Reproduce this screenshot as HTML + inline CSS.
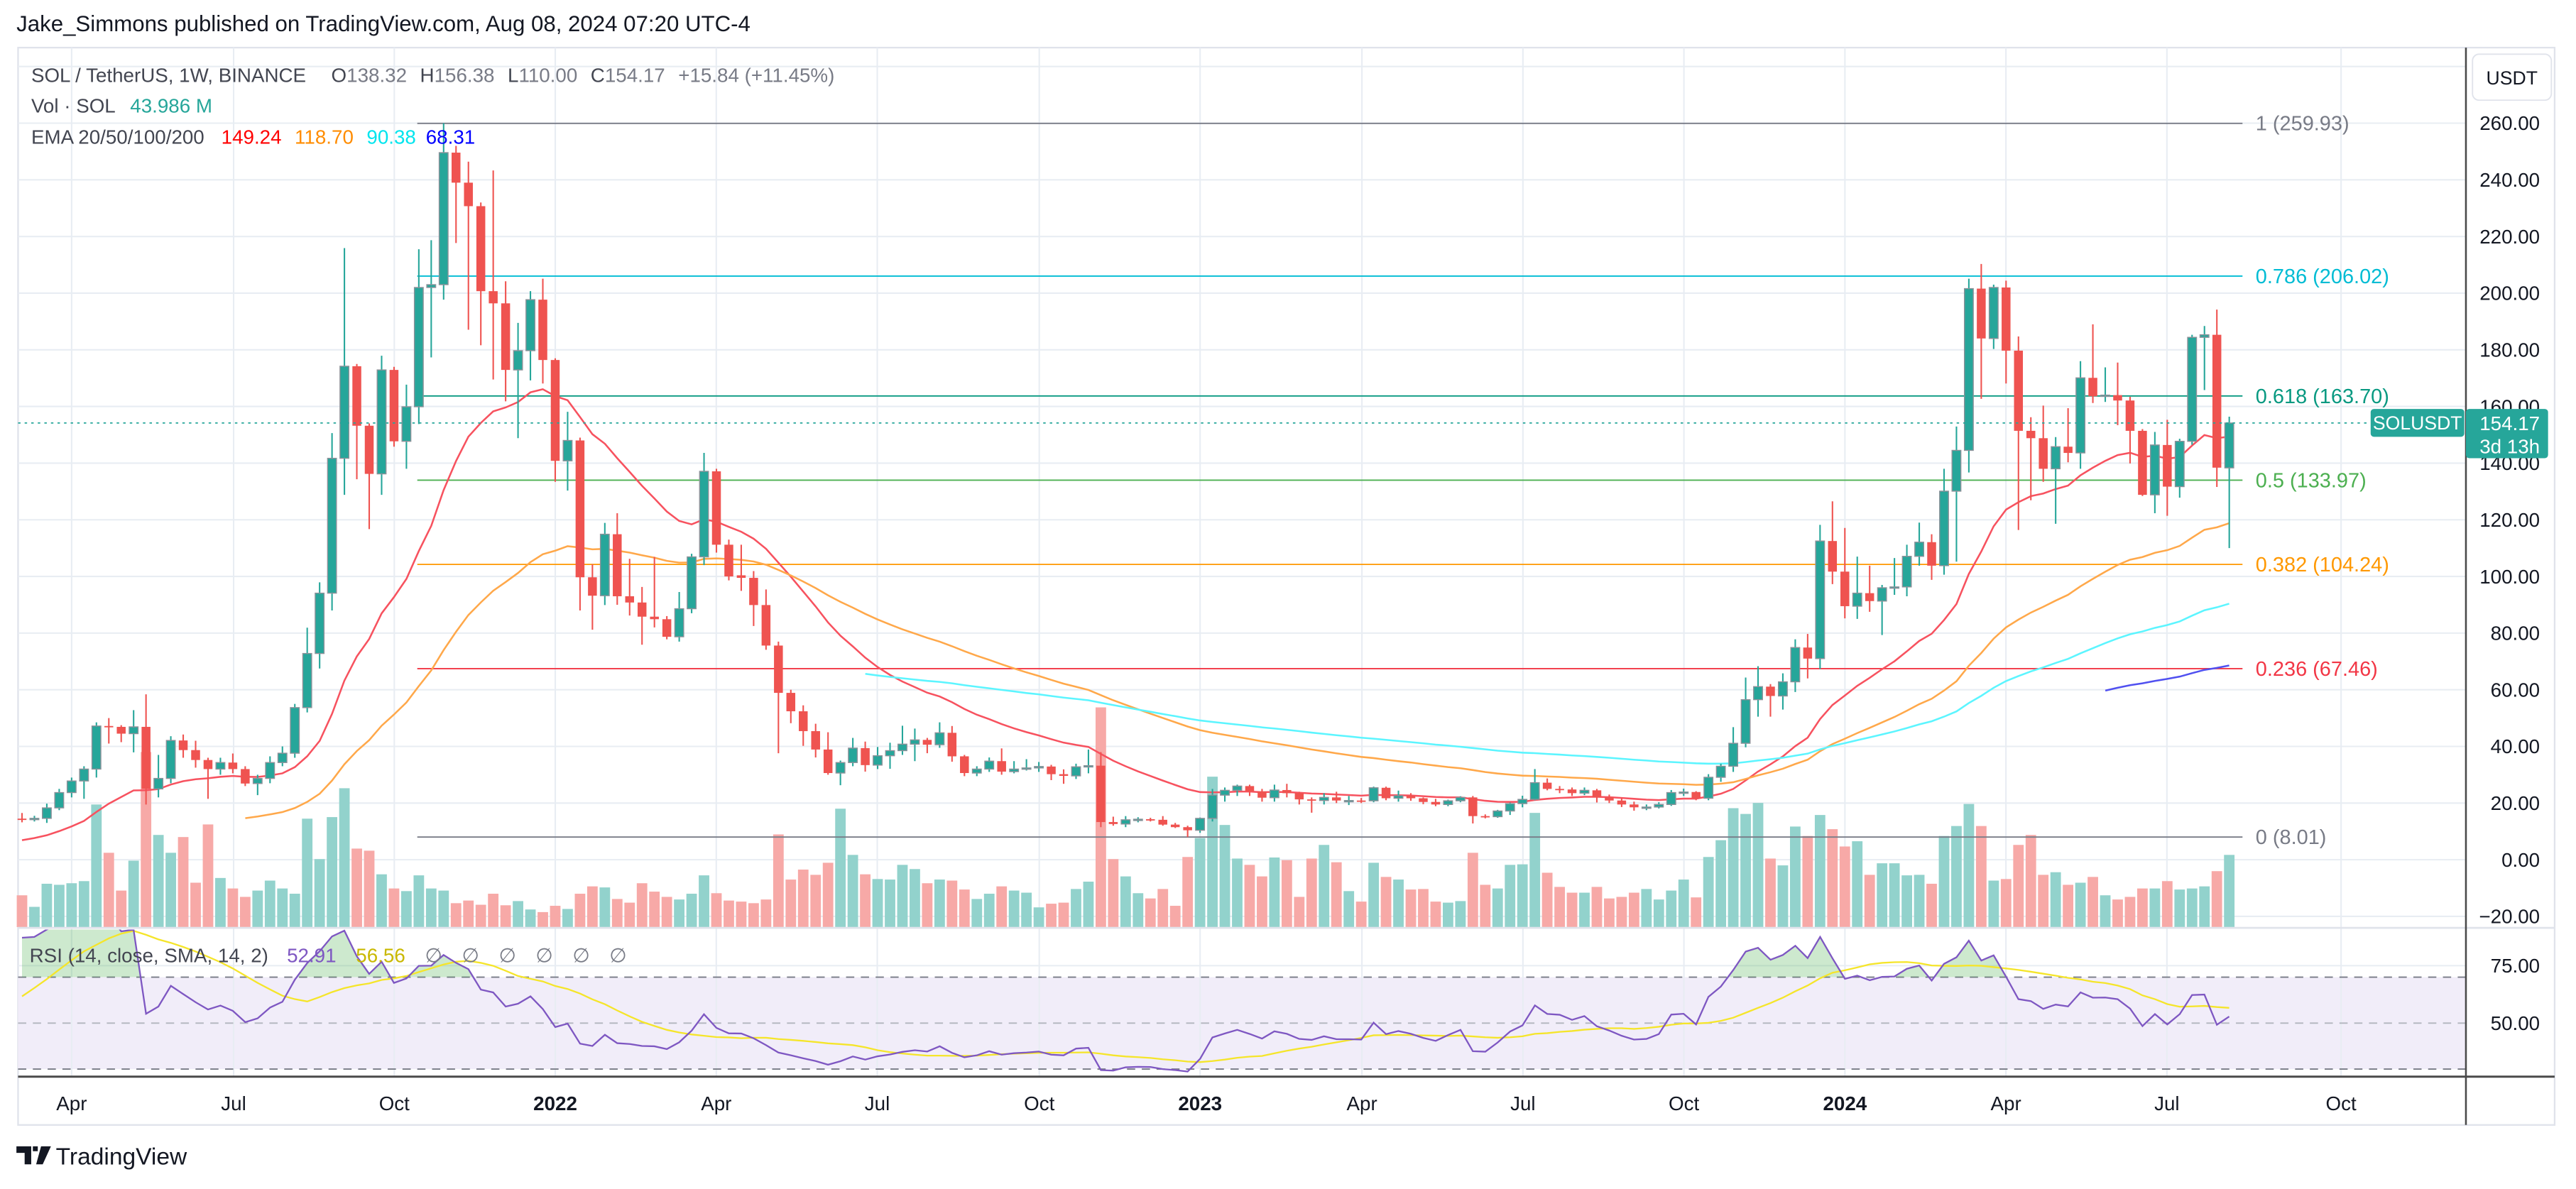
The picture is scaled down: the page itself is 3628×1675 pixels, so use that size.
<!DOCTYPE html>
<html><head><meta charset="utf-8"><style>
html,body{margin:0;padding:0;background:#fff;width:3628px;height:1675px;overflow:hidden}
svg{display:block}
text{font-family:"Liberation Sans",sans-serif}
</style></head><body>
<svg id="s" width="3628" height="1675" viewBox="0 0 1568 724" preserveAspectRatio="none" xmlns="http://www.w3.org/2000/svg"></svg>
<script>
const D=[[14.5,16.5,13.2,14.3],[14.3,15.5,13.5,14.6],[14.6,19.8,13,18.3],[18.3,25,17.5,23.7],[23.7,29,22,27.8],[27.8,33,21.5,32],[32,48.5,29,47.2],[47.2,50,41,47],[46.9,47.5,41.5,44.5],[44.5,52.8,37.9,46.9],[46.9,58.4,19.5,25],[25,37,22,28.7],[28.7,43.6,27,42.1],[42.1,44.2,36,38.7],[38.7,42,32.5,35.2],[35.2,36,21.5,32],[32,36,30,34.3],[34.3,37.5,30.5,32],[32,33,26,26.9],[26.9,30,22.8,28.7],[28.7,36.5,27,34.3],[34.3,40,33,37.6],[37.6,55,36,53.7],[53.7,81.9,52,72.8],[72.8,97.9,67.5,94.1],[94.1,150.6,88,141.7],[141.7,215.9,128.8,174.2],[174.2,175,134.3,153.2],[153.2,154,116.7,136.2],[136.2,177.9,128.8,172.9],[172.9,174,145.8,147.7],[147.7,167.7,138,159.9],[159.9,215.5,153.8,202],[202,218.7,177.3,203],[203,260,197.7,249.6],[249.6,252,217.7,239],[239,246.4,187.1,230.7],[230.7,232,181.6,200.7],[200.7,243.3,169.5,196.4],[196.4,204.2,161.8,172.9],[172.9,189.5,148.8,179.7],[179.7,200.7,169.2,197.7],[197.7,205.1,168.1,176.4],[176.4,177,133.4,140.8],[140.8,158.1,130.3,148],[148,149,88,99.7],[99.7,104.3,81.2,93.2],[93.2,118.9,89.9,114.9],[114.9,122.3,90,93],[93,106.2,86.2,90.8],[90.8,96.3,75.9,85.8],[85.8,106.9,82,84.9],[84.9,86,77.8,78.7],[78.7,94.5,77,88.6],[88.6,108,87,106.9],[106.9,143.6,104,137.1],[137.1,138,108.4,111.2],[111.2,113,98.6,100],[100.4,111.2,94.9,99.5],[99.5,101.9,82.5,89.9],[89.9,95.4,74.1,75.6],[75.6,77,37.6,58.9],[58.9,60,48.2,52.4],[52.4,54.5,40.2,45.4],[45.4,48,36.1,38.9],[38.9,45,30,30.6],[30.6,35,26.3,34.3],[34.3,43,33,39.4],[39.4,41.7,31.1,33.4],[33.4,39.8,32,36.7],[36.7,41.3,32.1,38.5],[38.5,47.3,37,40.8],[40.8,46.3,34.8,42.3],[42.3,43,37.6,40.6],[40.6,48.5,39.5,44.8],[44.8,47.2,34.6,36.5],[36.5,37,29.5,30.6],[30.6,33,29.5,32],[32,36.1,31,34.8],[34.8,39.3,30,31.1],[31.1,34.8,30.5,32],[32,35.5,31.5,32.4],[32.4,34.5,31,32.9],[32.9,33.5,28.1,30.2],[30.2,31.9,26.8,29.6],[29.6,33.9,28.5,32.8],[32.8,38.9,30.5,33.2],[33.2,38,11.5,13.3],[13.3,15.2,12,12.6],[12.6,15.4,11.5,14.1],[14.1,15,13.2,14.3],[14.3,14.8,13.5,14.1],[14.1,15.4,12,12.4],[12.4,13,11.2,11.5],[11.5,12,8,10.4],[10.4,14.9,9.5,14.6],[14.6,25,13.5,22.8],[22.8,25.5,20.5,24.5],[24.5,26.5,22.5,26],[26,26.5,22.5,24.1],[24.1,25,20.5,21.9],[21.9,26.5,20.5,24.6],[24.6,26.8,22,23.5],[23.5,24,19.5,21.3],[21.3,22,16.6,20.9],[20.9,23.5,19.5,22],[22,24,20,20.9],[20.9,22.5,19.3,20.9],[20.9,21.8,20,20.8],[20.8,25.8,20.3,25.4],[25.4,25.8,21,21.7],[21.7,24.4,20.5,22.6],[22.6,23.5,20.8,21.7],[21.7,22,19.6,20.4],[20.4,21.5,18.9,19.5],[19.5,21.2,18.9,20.8],[20.8,22.4,20.3,22],[22,22.5,12.8,15.4],[15.4,16,14.6,15.2],[15.2,17.6,14.8,17.2],[17.2,20.2,15.8,19.8],[19.8,22.6,18.5,21.3],[21.3,32,21,27.2],[27.2,28.7,24.5,25],[25,26,23.5,24.8],[24.8,25.5,22.5,23.5],[23.5,25.5,22.8,24.5],[24.5,25,20.2,22],[22,23,20,20.9],[20.9,21.8,18.6,19.5],[19.5,20.5,17.3,18.5],[18.5,19.5,17.5,18.6],[18.6,20.3,18.1,19.5],[19.5,24.6,19,23.7],[23.7,25.1,22.5,23.9],[23.9,24.2,21,21.7],[21.7,30.2,21,29.1],[29.1,33.9,27.5,33],[33,46.8,31,41.1],[41.1,64.3,39.7,56.5],[56.5,68.3,50.5,61.1],[61.1,62,50.5,57.8],[57.8,65.8,53,62.8],[62.8,77.8,59.2,74.9],[74.9,79.7,64,71],[71,118.2,67.3,112.5],[112.5,126.5,97.3,101.7],[101.7,117.1,85.2,89.5],[89.5,107,85,94.1],[94.1,103.8,87.5,91.3],[91.3,97,79.3,96],[96,106.5,93.5,96.3],[96.3,111.2,93,107.1],[107.1,119,103.8,112.1],[112.1,114.9,98.8,103.8],[103.8,138,100.6,130.1],[130.1,152.9,105.2,144.5],[144.5,205.1,136.7,201.6],[201.6,210.3,162.7,184],[184,203,180.3,202],[202,204.4,168.1,179.7],[179.7,184.7,116.4,151.4],[151.4,156.2,126.9,148.8],[148.8,160.3,133.4,138],[138,149.2,118.6,145.8],[145.8,159.4,140.3,143.6],[143.6,176,138,170.1],[170.1,189,161.2,163.6],[163.6,173.8,161.6,164],[164,175.5,153.4,162.1],[162.1,163.4,139.9,151.4],[151.4,152,128.4,128.8],[128.8,151,122.3,146.4],[146.4,155.3,121.4,131.7],[131.7,148.6,127.8,147.7],[147.7,185.3,146.5,184.4],[184.4,188.4,165.8,185.3],[185.3,194.2,131.6,138.4],[138.32,156.38,110,154.17]];
const VZ=[1503,1525,1481,1483,1480,1476,1330,1422,1494,1437,1230,1388,1422,1392,1479,1368,1470,1490,1506,1494,1475,1490,1500,1357,1434,1354,1299,1414,1418,1463,1490,1495,1465,1490,1494,1518,1513,1521,1500,1522,1514,1530,1535,1523,1529,1500,1486,1488,1510,1517,1480,
1496,1506,1511,1500,1465,1499,1513,1515,1518,1511,1387,1473,1454,1464,1441,1338,1426,1463,1472,1473,1445,1453,1480,1473,1475,1492,1510,1500,1486,1494,1498,1526,1519,1517,1491,1477,1145,1434,1467,1499,1509,1491,1523,1430,1394,1277,1369,1433,1445,1467,1431,
1436,1506,1433,1407,1440,1495,1515,1441,1468,1473,1492,1491,1515,1517,1514,1422,1483,1490,1445,1444,1346,1460,1487,1498,1498,1487,1509,1506,1498,1491,1511,1494,1473,1507,1430,1398,1337,1348,1327,1433,1446,1372,1390,1350,1377,1410,1400,1464,1442,1442,
1465,1464,1481,1390,1371,1329,1371,1475,1472,1407,1388,1464,1459,1483,1479,1468,1503,1511,1506,1490,1490,1476,1492,1490,1486,1457,1426];
const PRE=[3.5,4.5,4.0,4.5,3.0,3.2,3.0,2.8,2.6,2.3,2.0,1.6,1.5,1.6,1.9,1.8,2.2,2.4,1.6,1.5,1.5,1.6,2.0,3.5,3.7,4.0,6.5,8.0,12,14,14.4];
const X=i=>13.4+i*7.548, Y=p=>75+(260-p)*1.725, R=r=>623-(r-50)*1.4;
let s='';
const L=(x1,y1,x2,y2,c,w,extra)=>s+=`<line x1="${x1}" y1="${y1}" x2="${x2}" y2="${y2}" stroke="${c}" stroke-width="${w}" ${extra||''}/>`;
const T=(x,y,t,c,sz,anc,extra)=>s+=`<text x="${x}" y="${y}" fill="${c}" font-size="${sz}" text-anchor="${anc||'start'}" ${extra||''}>${t}</text>`;
s+=`<rect x="11" y="29" width="1544" height="656" fill="#fff" stroke="#e0e3eb" stroke-width="1"/>`;
s+=`<rect x="11" y="${R(70)}" width="1490" height="${R(30)-R(70)}" fill="#f1edf9"/>`;
for(let p=280;p>=-20;p-=20){const y=Y(p); if(y>29&&y<565) L(11,y,1501,y,'#e8edf3',0.9);}
L(11,R(75),1501,R(75),'#e8edf3',0.9);
const TX=[[43.6,'Apr'],[142.2,'Jul'],[240,'Oct'],[338,'2022',1],[436,'Apr'],[534,'Jul'],[632.6,'Oct'],[730.5,'2023',1],[829,'Apr'],[927,'Jul'],[1025,'Oct'],[1123,'2024',1],[1221,'Apr'],[1319,'Jul'],[1425,'Oct']];
TX.forEach(t=>L(t[0],29,t[0],655,'#e8edf3',0.9));
L(11,R(70),1501,R(70),'#787b86',0.8,'stroke-dasharray="5 4"');
L(11,R(50),1501,R(50),'#b2b5be',0.8,'stroke-dasharray="5 4"');
L(11,R(30),1501,R(30),'#787b86',0.8,'stroke-dasharray="5 4"');
D.forEach((d,i)=>{const up=d[3]>=d[0];const top=64.8+VZ[i]*0.3196;s+=`<rect x="${X(i)-3.2}" y="${top}" width="6.4" height="${564.5-top}" fill="${up?'#92d2cc':'#f7a9a7'}"/>`;});
const FIB=[[259.93,'1 (259.93)','#787b86'],[206.02,'0.786 (206.02)','#00bcd4'],[163.70,'0.618 (163.70)','#089981'],[133.97,'0.5 (133.97)','#4caf50'],[104.24,'0.382 (104.24)','#ff9800'],[67.46,'0.236 (67.46)','#f23645'],[8.01,'0 (8.01)','#787b86']];
FIB.forEach(f=>{const y=Y(f[0]);L(254,y,1365,y,f[2],0.8);T(1373,y+4.3,f[1],f[2],12.5);});
const all=PRE.concat(D.map(d=>d[3]));const off=PRE.length;
function ema(n){const out=new Array(all.length).fill(null);if(all.length<n)return out;let sm=0;for(let i=0;i<n;i++)sm+=all[i];let e=sm/n;out[n-1]=e;const k=2/(n+1);for(let i=n;i<all.length;i++){e=all[i]*k+e*(1-k);out[i]=e;}return out;}
[[20,'#f7525f'],[50,'#ffa84a'],[100,'#5cf5ff'],[200,'#5050f0']].forEach(([n,c])=>{const e=ema(n);let pts=[];for(let i=0;i<D.length;i++){const v=e[i+off];if(v!=null)pts.push(X(i).toFixed(1)+','+Y(v).toFixed(1));}s+=`<polyline points="${pts.join(' ')}" fill="none" stroke="${c}" stroke-width="1.1"/>`;});
D.forEach((d,i)=>{const [o,h,l,c]=d;const up=c>=o;const x=X(i);const col=up?'#26a69a':'#ef5350';L(x,Y(h),x,Y(l),col,0.9);const t=Y(Math.max(o,c)),b=Y(Math.min(o,c));const hh=Math.max(b-t,0.8);s+=`<rect x="${x-2.7}" y="${t}" width="5.4" height="${hh}" fill="${col}" ${up?'stroke="#8d9199" stroke-width="0.6"':''}/>`;});
L(11,Y(154.17),1441,Y(154.17),'#26a69a',0.8,'stroke-dasharray="1.5 2.5"');
function rsi(){const ch=[];for(let i=1;i<all.length;i++)ch.push(all[i]-all[i-1]);const out=new Array(all.length).fill(null);let g=0,l=0;for(let i=0;i<14;i++){g+=Math.max(ch[i],0);l+=Math.max(-ch[i],0);}g/=14;l/=14;out[14]=100-100/(1+g/(l||1e-9));for(let i=14;i<ch.length;i++){g=(g*13+Math.max(ch[i],0))/14;l=(l*13+Math.max(-ch[i],0))/14;out[i+1]=100-100/(1+g/(l||1e-9));}return out;}
const rs=rsi();const rv=[],sv=[];for(let i=0;i<D.length;i++){rv.push(rs[i+off]);let sm=0;for(let k=0;k<14;k++)sm+=rs[i+off-k];sv.push(sm/14);}
s+=`<clipPath id="rc"><rect x="11" y="566" width="1490" height="89"/></clipPath><clipPath id="ob"><rect x="11" y="566" width="1490" height="${R(70)-566}"/></clipPath>`;
let rp=rv.map((v,i)=>X(i).toFixed(1)+','+R(v).toFixed(1));
s+=`<g clip-path="url(#ob)"><polygon points="${X(0)},${R(70)} ${rp.join(' ')} ${X(D.length-1)},${R(70)}" fill="rgba(76,175,80,0.28)"/></g>`;
s+=`<g clip-path="url(#rc)"><polyline points="${sv.map((v,i)=>X(i).toFixed(1)+','+R(v).toFixed(1)).join(' ')}" fill="none" stroke="#f5e52a" stroke-width="1"/><polyline points="${rp.join(' ')}" fill="none" stroke="#7e57c2" stroke-width="1"/></g>`;
L(11,565,1555,565,'#e0e3eb',1.2);
L(11,655.6,1555,655.6,'#4a4a4a',1.3);
L(1501,29,1501,685,'#4a4a4a',1.1);
for(let p=260;p>=-20;p-=20){T(1546,Y(p)+4.2,p.toFixed(2).replace('-','−'),'#131722',12,'end');}
T(1546,R(75)+4.2,'75.00','#131722',12,'end');T(1546,R(50)+4.2,'50.00','#131722',12,'end');
s+=`<rect x="1505" y="33" width="48" height="28" rx="4" fill="#fff" stroke="#e0e3eb" stroke-width="0.8"/>`;T(1529,51.5,'USDT','#131722',11.5,'middle');
s+=`<rect x="1443" y="249" width="57" height="17" rx="2" fill="#26a69a"/>`;T(1471.5,261.5,'SOLUSDT','#fff',11.5,'middle');
s+=`<rect x="1501" y="249" width="50" height="30" rx="2" fill="#26a69a"/>`;T(1546,262,'154.17','#fff',12,'end');T(1546,276,'3d 13h','#fff',12,'end');
TX.forEach(t=>T(t[0],676,t[1],'#131722',12,'middle',t[2]?'font-weight="bold"':''));
T(10,19,'Jake_Simmons published on TradingView.com, Aug 08, 2024 07:20 UTC-4','#131722',13.5);
s+=`<text x="19" y="50" font-size="12" fill="#434651">SOL / TetherUS, 1W, BINANCE <tspan dx="12">O</tspan><tspan fill="#787b86">138.32</tspan><tspan dx="8">H</tspan><tspan fill="#787b86">156.38</tspan><tspan dx="8">L</tspan><tspan fill="#787b86">110.00</tspan><tspan dx="8">C</tspan><tspan fill="#787b86">154.17</tspan><tspan dx="8" fill="#787b86">+15.84 (+11.45%)</tspan></text>`;
s+=`<text x="19" y="68.5" font-size="12" fill="#434651">Vol · SOL <tspan dx="6" fill="#26a69a">43.986 M</tspan></text>`;
s+=`<text x="19" y="87.5" font-size="12" fill="#434651">EMA 20/50/100/200 <tspan dx="7" fill="#ff0000">149.24</tspan><tspan dx="8" fill="#ff8c00">118.70</tspan><tspan dx="8" fill="#00e5ee">90.38</tspan><tspan dx="6" fill="#0000ff">68.31</tspan></text>`;
s+=`<text x="18" y="586" font-size="12" fill="#434651">RSI (14, close, SMA, 14, 2) <tspan dx="8" fill="#7e57c2">52.91</tspan><tspan dx="12" fill="#c9b800">56.56</tspan><tspan dx="12" fill="#787b86">∅</tspan><tspan dx="12" fill="#787b86">∅</tspan><tspan dx="12" fill="#787b86">∅</tspan><tspan dx="12" fill="#787b86">∅</tspan><tspan dx="12" fill="#787b86">∅</tspan><tspan dx="12" fill="#787b86">∅</tspan></text>`;
s+=`<path d="M10 698h9v11h-4v-7h-5z M20 698h3v3h-3z M25 698h6l-5 11h-4z" fill="#131722"/>`;
T(34,709,'TradingView','#131722',14.5);
document.getElementById('s').innerHTML=s;
</script>
</body></html>
